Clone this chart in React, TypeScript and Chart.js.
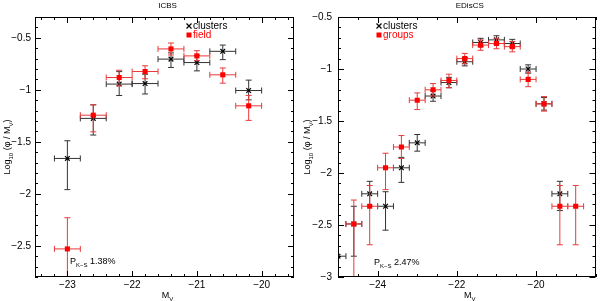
import React, { useEffect, useRef } from "react";
import { Chart, registerables } from "chart.js";
Chart.register(...registerables);

const FONT = "'Liberation Sans', Arial, Helvetica, sans-serif";
const BLACK = "#000000";
const RED = "#ff0000";
const BLACK_BAR = "#333333";
const RED_BAR = "#e83a3a";

// ---------- ICBS panel ----------
const icbsMv = [-23.0, -22.6, -22.2, -21.8, -21.4, -21.0, -20.6, -20.2];
const icbsClusters = [-1.66, -1.275, -0.945, -0.94, -0.705, -0.738, -0.63, -1.007];
const icbsClustersUp = [0.17, 0.13, 0.12, 0.09, 0.06, 0.07, 0.06, 0.1];
const icbsClustersDown = [0.3, 0.16, 0.11, 0.1, 0.08, 0.08, 0.08, 0.09];
const icbsField = [-2.53, -1.244, -0.882, -0.824, -0.607, -0.674, -0.856, -1.154];
const icbsFieldUp = [0.3, 0.1, 0.07, 0.055, 0.057, 0.05, 0.066, 0.1];
const icbsFieldDown = [0.45, 0.16, 0.08, 0.07, 0.058, 0.046, 0.08, 0.14];
const icbsXTicks = [-23, -22, -21, -20];
const icbsYTicks = [-2.5, -2, -1.5, -1, -0.5];

// ---------- EDisCS panel ----------
const edisClustersMv = [-25.0, -24.6, -24.2, -23.8, -23.4, -23.0, -22.6, -22.2, -21.8, -21.4, -21.0, -20.6, -20.2, -19.8, -19.4];
const edisClusters = [-2.8, -2.49, -2.2, -2.32, -1.95, -1.71, -1.26, -1.13, -0.93, -0.745, -0.72, -0.755, -1.0, -1.335, -2.2];
const edisClustersUp = [0, 0.17, 0.12, 0.14, 0.1, 0.08, 0.05, 0.05, 0.04, 0.04, 0.04, 0.04, 0.04, 0.06, 0.12];
const edisClustersDown = [0, 0.31, 0.12, 0.23, 0.14, 0.08, 0.05, 0.05, 0.04, 0.04, 0.04, 0.04, 0.04, 0.06, 0.16];
const edisGroupsMv = [-24.6, -24.2, -23.8, -23.4, -23.0, -22.6, -22.2, -21.8, -21.4, -21.0, -20.6, -20.2, -19.8, -19.4, -19.0];
const edisGroups = [-2.49, -2.32, -1.95, -1.75, -1.3, -1.2, -1.11, -0.9, -0.77, -0.755, -0.785, -1.1, -1.335, -2.32, -2.32];
const edisGroupsUp = [0.23, 0.2, 0.14, 0.11, 0.07, 0.06, 0.06, 0.05, 0.05, 0.05, 0.05, 0.07, 0.07, 0.2, 0.2];
const edisGroupsDown = [0.6, 0.37, 0.21, 0.11, 0.09, 0.06, 0.07, 0.05, 0.05, 0.05, 0.05, 0.07, 0.07, 0.37, 0.37];
const edisXTicks = [-24, -22, -20];
const edisYTicks = [-3, -2.5, -2, -1.5, -1, -0.5];

const MV_HALF_BIN = 0.2;

type Series = {
  label: string;
  x: number[];
  y: number[];
  up: number[];
  down: number[];
  color: string;
  barColor: string;
  style: "crossRot" | "rect";
};

type Panel = {
  title: string;
  xMin: number;
  xMax: number;
  yMin: number;
  yMax: number;
  xTicks: number[];
  yTicks: number[];
  xMinor: number;
  yMinor: number;
  series: Series[];
  legendX: number;
  pks: string;
  pksX: number;
  pksY: number;
  yAxisWidth: number;
  padRight: number;
  yLabelPad: number;
};

const icbsPanel: Panel = {
  title: "ICBS",
  xMin: -23.5,
  xMax: -19.5,
  yMin: -2.8,
  yMax: -0.3,
  xTicks: icbsXTicks,
  yTicks: icbsYTicks,
  xMinor: 0.2,
  yMinor: 0.1,
  series: [
    { label: "field", x: icbsMv, y: icbsField, up: icbsFieldUp, down: icbsFieldDown, color: RED, barColor: RED_BAR, style: "rect" },
    { label: "clusters", x: icbsMv, y: icbsClusters, up: icbsClustersUp, down: icbsClustersDown, color: BLACK, barColor: BLACK_BAR, style: "crossRot" },
  ],
  legendX: 189,
  pks: "1.38%",
  pksX: 70,
  pksY: 261,
  yAxisWidth: 35,
  padRight: 6,
  yLabelPad: 4,
};

const edisPanel: Panel = {
  title: "EDisCS",
  xMin: -25,
  xMax: -18.5,
  yMin: -3,
  yMax: -0.5,
  xTicks: edisXTicks,
  yTicks: edisYTicks,
  xMinor: 0.5,
  yMinor: 0.1,
  series: [
    { label: "groups", x: edisGroupsMv, y: edisGroups, up: edisGroupsUp, down: edisGroupsDown, color: RED, barColor: RED_BAR, style: "rect" },
    { label: "clusters", x: edisClustersMv, y: edisClusters, up: edisClustersUp, down: edisClustersDown, color: BLACK, barColor: BLACK_BAR, style: "crossRot" },
  ],
  legendX: 79,
  pks: "2.47%",
  pksX: 74,
  pksY: 262,
  yAxisWidth: 38,
  padRight: 2,
  yLabelPad: 6,
};

const fmt = (v: number) => (v < 0 ? "\u2212" : "") + String(Math.abs(v));

type Seg = { t: string; size: number; dy: number };

function richWidth(ctx: CanvasRenderingContext2D, segs: Seg[]) {
  let w = 0;
  for (const s of segs) {
    ctx.font = `${s.size}px ${FONT}`;
    w += ctx.measureText(s.t).width;
  }
  return w;
}

function drawRich(ctx: CanvasRenderingContext2D, segs: Seg[], x: number, yCenter: number, align: "left" | "center", color: string) {
  const w = richWidth(ctx, segs);
  let cx = align === "center" ? x - w / 2 : x;
  const base = yCenter + 3.4;
  ctx.fillStyle = color;
  ctx.textAlign = "left";
  ctx.textBaseline = "alphabetic";
  for (const s of segs) {
    ctx.font = `${s.size}px ${FONT}`;
    ctx.fillText(s.t, cx, base + s.dy);
    cx += ctx.measureText(s.t).width;
  }
}

function makeConfig(p: Panel): any {
  const decor = {
    id: "decor",
    beforeDatasetDraw(chart: any, args: any) {
      const s = p.series[args.index];
      if (!s) return;
      const { ctx, chartArea: a, scales } = chart;
      const xs = scales.x;
      const ys = scales.y;
      ctx.save();
      ctx.beginPath();
      ctx.rect(a.left, a.top, a.right - a.left, a.bottom - a.top);
      ctx.clip();
      ctx.strokeStyle = s.barColor;
      ctx.lineWidth = 1;
      const cap = 3;
      for (let i = 0; i < s.x.length; i++) {
        const px = xs.getPixelForValue(s.x[i]);
        const py = ys.getPixelForValue(s.y[i]);
        const xl = xs.getPixelForValue(s.x[i] - MV_HALF_BIN);
        const xr = xs.getPixelForValue(s.x[i] + MV_HALF_BIN);
        ctx.beginPath();
        ctx.moveTo(xl, py);
        ctx.lineTo(xr, py);
        ctx.moveTo(xl, py - cap);
        ctx.lineTo(xl, py + cap);
        ctx.moveTo(xr, py - cap);
        ctx.lineTo(xr, py + cap);
        if (s.up[i] > 0 || s.down[i] > 0) {
          const yt = ys.getPixelForValue(s.y[i] + s.up[i]);
          const yb = ys.getPixelForValue(s.y[i] - s.down[i]);
          ctx.moveTo(px, yt);
          ctx.lineTo(px, yb);
          ctx.moveTo(px - cap, yt);
          ctx.lineTo(px + cap, yt);
          ctx.moveTo(px - cap, yb);
          ctx.lineTo(px + cap, yb);
        }
        ctx.stroke();
      }
      ctx.restore();
    },
    afterDraw(chart: any) {
      const { ctx, chartArea: a, scales } = chart;
      const xs = scales.x;
      const ys = scales.y;
      ctx.save();
      // frame
      ctx.strokeStyle = "#000";
      ctx.lineWidth = 1;
      ctx.strokeRect(Math.round(a.left) + 0.5, Math.round(a.top) + 0.5, Math.round(a.right - a.left) - 1, Math.round(a.bottom - a.top) - 1);
      // ticks
      const isMajor = (v: number, majors: number[]) => majors.some((m) => Math.abs(m - v) < 1e-6);
      ctx.beginPath();
      const kx0 = Math.ceil(p.xMin / p.xMinor - 1e-9);
      const kx1 = Math.floor(p.xMax / p.xMinor + 1e-9);
      for (let k = kx0; k <= kx1; k++) {
        const v = k * p.xMinor;
        const len = isMajor(v, p.xTicks) ? 6 : 3;
        const x = Math.round(xs.getPixelForValue(v)) + 0.5;
        ctx.moveTo(x, a.bottom);
        ctx.lineTo(x, a.bottom - len);
        ctx.moveTo(x, a.top);
        ctx.lineTo(x, a.top + len);
      }
      const ky0 = Math.ceil(p.yMin / p.yMinor - 1e-9);
      const ky1 = Math.floor(p.yMax / p.yMinor + 1e-9);
      for (let k = ky0; k <= ky1; k++) {
        const v = k * p.yMinor;
        const len = isMajor(v, p.yTicks) ? 6 : 3;
        const y = Math.round(ys.getPixelForValue(v)) + 0.5;
        ctx.moveTo(a.left, y);
        ctx.lineTo(a.left + len, y);
        ctx.moveTo(a.right, y);
        ctx.lineTo(a.right - len, y);
      }
      ctx.stroke();

      const cx = (a.left + a.right) / 2 + 3;
      // title
      ctx.fillStyle = "#000";
      ctx.font = `8px ${FONT}`;
      ctx.textAlign = "center";
      ctx.textBaseline = "middle";
      ctx.fillText(p.title, cx, 6);
      // x label
      drawRich(ctx, [
        { t: "M", size: 9, dy: 0 },
        { t: "V", size: 6, dy: 2.5 },
      ], cx, 295, "center", "#000");
      // y label
      ctx.save();
      ctx.translate(7, (a.top + a.bottom) / 2);
      ctx.rotate(-Math.PI / 2);
      drawRich(ctx, [
        { t: "Log", size: 9, dy: 0 },
        { t: "10", size: 6, dy: 2.5 },
        { t: " (\u03c6 / M", size: 9, dy: 0 },
        { t: "V", size: 6, dy: 2.5 },
        { t: ")", size: 9, dy: 0 },
      ], 0, 0, "center", "#000");
      ctx.restore();
      // legend
      const lx = p.legendX;
      ctx.strokeStyle = "#000";
      ctx.lineWidth = 1.2;
      ctx.beginPath();
      ctx.moveTo(lx - 2.5, 23.5);
      ctx.lineTo(lx + 2.5, 28.5);
      ctx.moveTo(lx + 2.5, 23.5);
      ctx.lineTo(lx - 2.5, 28.5);
      ctx.stroke();
      ctx.font = `10px ${FONT}`;
      ctx.textAlign = "left";
      ctx.textBaseline = "middle";
      ctx.fillStyle = "#000";
      ctx.fillText("clusters", lx + 4, 26);
      ctx.fillStyle = RED;
      ctx.fillRect(lx - 2.5, 32.5, 5, 5);
      ctx.fillText(p.series[0].label, lx + 4, 35.5);
      // P_K-S
      drawRich(ctx, [
        { t: "P", size: 9, dy: 0 },
        { t: "K\u2212S", size: 6, dy: 2.5 },
        { t: " " + p.pks, size: 9, dy: 0 },
      ], p.pksX, p.pksY, "left", "#000");
      ctx.restore();
    },
  };

  return {
    type: "scatter",
    data: {
      datasets: p.series.map((s) => ({
        label: s.label,
        data: s.x.map((x, i) => ({ x, y: s.y[i] })),
        pointStyle: s.style,
        pointRadius: s.style === "rect" ? 3.6 : 3.3,
        pointHoverRadius: s.style === "rect" ? 3.6 : 3.3,
        backgroundColor: s.color,
        borderColor: s.color,
        borderWidth: s.style === "rect" ? 0 : 1.2,
        showLine: false,
        clip: 0,
      })),
    },
    options: {
      animation: false,
      responsive: false,
      events: [],
      layout: { padding: { left: 0, right: p.padRight, top: 17, bottom: 0 } },
      plugins: {
        legend: { display: false },
        tooltip: { enabled: false },
        title: { display: false },
      },
      scales: {
        x: {
          type: "linear",
          min: p.xMin,
          max: p.xMax,
          grid: { display: false, drawTicks: false },
          border: { display: false },
          afterBuildTicks: (s: any) => {
            s.ticks = p.xTicks.map((v) => ({ value: v }));
          },
          afterFit: (s: any) => {
            s.height = 24;
          },
          ticks: {
            font: { family: FONT, size: 10 },
            color: "#000",
            padding: 2,
            maxRotation: 0,
            autoSkip: false,
            callback: (v: number) => fmt(v),
          },
        },
        y: {
          type: "linear",
          min: p.yMin,
          max: p.yMax,
          grid: { display: false, drawTicks: false },
          border: { display: false },
          afterBuildTicks: (s: any) => {
            s.ticks = p.yTicks.map((v) => ({ value: v }));
          },
          afterFit: (s: any) => {
            s.width = p.yAxisWidth;
          },
          ticks: {
            font: { family: FONT, size: 10 },
            color: "#000",
            padding: p.yLabelPad,
            autoSkip: false,
            callback: (v: number) => fmt(v),
          },
        },
      },
    },
    plugins: [decor],
  };
}

export default function App() {
  const leftRef = useRef<HTMLCanvasElement>(null);
  const rightRef = useRef<HTMLCanvasElement>(null);
  useEffect(() => {
    const c1 = new Chart(leftRef.current as HTMLCanvasElement, makeConfig(icbsPanel));
    const c2 = new Chart(rightRef.current as HTMLCanvasElement, makeConfig(edisPanel));
    return () => {
      c1.destroy();
      c2.destroy();
    };
  }, []);
  return (
    <div style={{ position: "absolute", left: 0, top: 0, width: 600, height: 301, background: "#fff" }}>
      <canvas ref={leftRef} width={300} height={301} style={{ position: "absolute", left: 0, top: 0, width: 300, height: 301 }} />
      <canvas ref={rightRef} width={300} height={301} style={{ position: "absolute", left: 300, top: 0, width: 300, height: 301 }} />
    </div>
  );
}
